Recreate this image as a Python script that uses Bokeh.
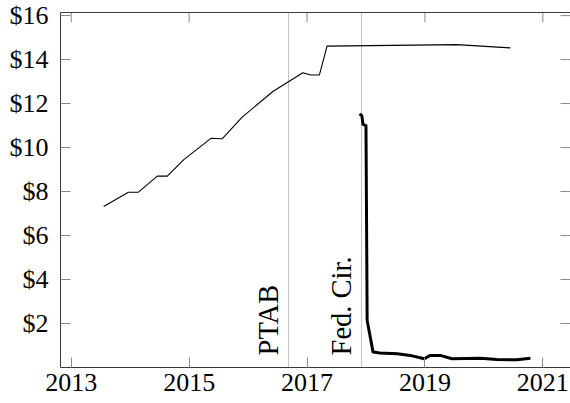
from math import pi
from bokeh.plotting import figure
from bokeh.models import FixedTicker, PrintfTickFormatter, LinearAxis, Range1d
from bokeh.core.properties import value
from bokeh.embed import file_html
from bokeh.resources import INLINE

# ---- data ----
thin_years = [2013.55, 2013.97, 2014.14, 2014.46, 2014.63, 2014.91, 2015.37, 2015.56,
              2015.90, 2016.42, 2016.93, 2017.06, 2017.21, 2017.34, 2019.54, 2020.45]
thin_values = [7.32, 7.97, 7.97, 8.70, 8.70, 9.45, 10.42, 10.40,
               11.38, 12.55, 13.40, 13.30, 13.30, 14.61, 14.68, 14.53]

thick_years = [2017.89, 2017.93, 2017.95, 2018.00, 2018.02, 2018.12, 2018.24, 2018.53,
               2018.75, 2018.99, 2019.09, 2019.26, 2019.46, 2019.94, 2020.22, 2020.56, 2020.79]
thick_values = [11.53, 11.45, 11.05, 11.00, 2.14, 0.70, 0.66, 0.62,
                0.55, 0.40, 0.55, 0.55, 0.40, 0.42, 0.36, 0.35, 0.42]

event_years = [2016.69, 2017.93]
event_labels = ["PTAB", "Fed. Cir."]

x_ticks = [2013, 2015, 2017, 2019, 2021]
y_ticks = [2, 4, 6, 8, 10, 12, 14, 16]

W, H = 570, 403
LEFT, TOP, BOTTOM = 60, 12, 36
X0, Y0, Y1 = 2012.818, 0, 16.14
PX_PER_YEAR = 58.95
X1 = X0 + (W - LEFT) / PX_PER_YEAR

FONT = "Liberation Serif"
FS = "26px"
LABEL_FS = "28.5px"
AXIS_COLOR = "#3a3a3a"
TICK_COLOR = "#8a8a8a"
TICK_LEN = 10
LABEL_GAP = 20  # px from event line to the (middle-anchored) rotated label

p = figure(width=W, height=H,
           x_range=Range1d(X0, X1), y_range=Range1d(Y0, Y1),
           output_backend="svg", toolbar_location=None,
           min_border_left=LEFT, min_border_right=0, min_border_top=TOP,
           min_border_bottom=BOTTOM)
p.grid.visible = False
p.outline_line_color = None
p.background_fill_color = "white"
p.border_fill_color = "white"

def style_axis(ax):
    ax.axis_line_color = AXIS_COLOR
    ax.axis_line_width = 1
    ax.major_tick_line_color = TICK_COLOR
    ax.major_tick_line_width = 1
    ax.major_tick_in = TICK_LEN
    ax.major_tick_out = 0
    ax.minor_tick_line_color = None
    ax.major_label_text_font = FONT
    ax.major_label_text_font_size = FS
    ax.major_label_text_color = "black"

xa = p.xaxis[0]
xa.ticker = FixedTicker(ticks=x_ticks)
style_axis(xa)
xa.major_label_standoff = 6

ya = p.yaxis[0]
ya.ticker = FixedTicker(ticks=y_ticks)
ya.formatter = PrintfTickFormatter(format="$%d")
style_axis(ya)
ya.major_label_standoff = 12

# top frame line (no ticks/labels on the axis itself)
top = LinearAxis(ticker=FixedTicker(ticks=[]))
top.axis_line_color = AXIS_COLOR
top.axis_line_width = 1
top.major_tick_out = 0
top.minor_tick_out = 0
p.add_layout(top, "above")

# inward ticks on the top and right edges
p.ray(x=x_ticks, y=[Y1] * len(x_ticks), length=TICK_LEN, angle=-pi / 2,
      length_units="screen", line_color=TICK_COLOR, line_width=1)
p.ray(x=[X1] * len(y_ticks), y=y_ticks, length=TICK_LEN, angle=pi,
      length_units="screen", line_color=TICK_COLOR, line_width=1)

# event markers
p.vspan(x=event_years, line_color="#c4c4c4", line_width=1)
label_x = [yr - LABEL_GAP / PX_PER_YEAR for yr in event_years]
label_y = [0.55] * len(event_years)
p.text(x=label_x, y=label_y, text=event_labels, angle=pi / 2,
       text_align="left", text_baseline="middle",
       text_font=value(FONT), text_font_size=LABEL_FS, text_color="black")

# series
p.line(thin_years, thin_values, line_color="black", line_width=1.1)
p.line(thick_years, thick_values, line_color="black", line_width=3, line_join="round")

open("out.html", "w").write(file_html(p, INLINE))
